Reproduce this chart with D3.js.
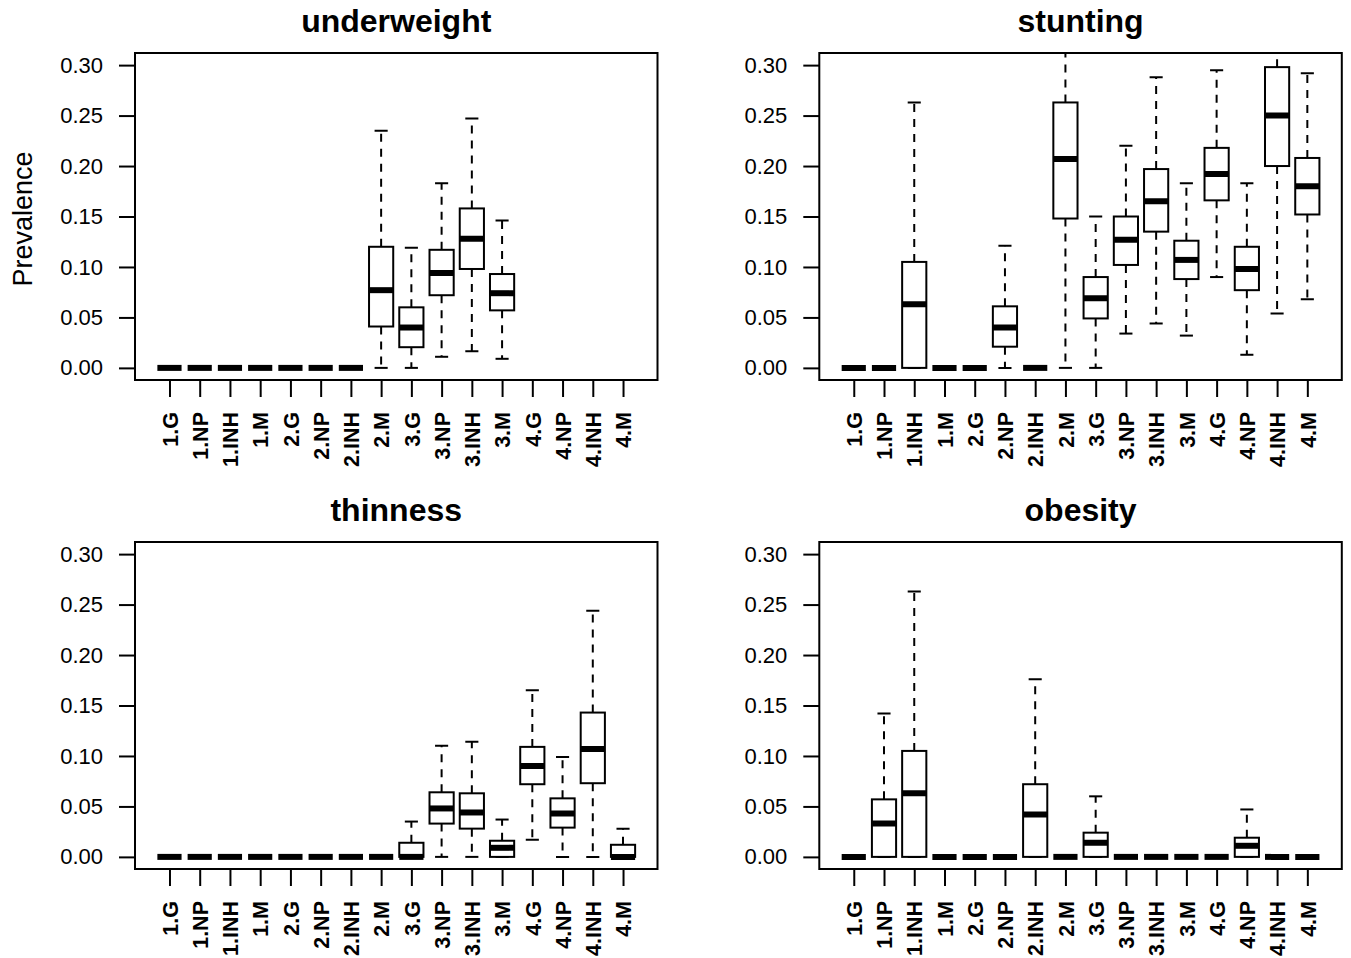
<!DOCTYPE html>
<html>
<head>
<meta charset="utf-8">
<script src="https://cdn.jsdelivr.net/npm/d3@7"></script>
<style>
  body { margin: 0; background: #fff; }
  text { font-family: "Liberation Sans", Arial, Helvetica, sans-serif; fill: #000; }
</style>
</head>
<body>
<script>
// group labels on the x axis
var categories = ["1.G", "1.NP", "1.INH", "1.M", "2.G", "2.NP", "2.INH", "2.M",
                  "3.G", "3.NP", "3.INH", "3.M", "4.G", "4.NP", "4.INH", "4.M"];
var yTicks = [0, 0.05, 0.10, 0.15, 0.20, 0.25, 0.30];

// each box: [lower whisker, Q1, median, Q3, upper whisker], null = no box
var z = [0, 0, 0, 0, 0];
var underweight = [z, z, z, z, z, z, z,
  [0, 0.041, 0.077, 0.120, 0.235],
  [0, 0.0205, 0.040, 0.060, 0.119],
  [0.011, 0.072, 0.094, 0.117, 0.183],
  [0.0165, 0.098, 0.128, 0.158, 0.247],
  [0.009, 0.057, 0.074, 0.093, 0.146],
  null, null, null, null];
var stunting = [z, z,
  [0, 0, 0.063, 0.105, 0.263],
  z, z,
  [0, 0.021, 0.040, 0.061, 0.121],
  z,
  [0, 0.148, 0.207, 0.263, 0.34],
  [0, 0.049, 0.069, 0.090, 0.150],
  [0.034, 0.102, 0.127, 0.150, 0.220],
  [0.044, 0.135, 0.165, 0.197, 0.288],
  [0.032, 0.088, 0.107, 0.126, 0.183],
  [0.090, 0.166, 0.192, 0.218, 0.295],
  [0.013, 0.077, 0.098, 0.120, 0.183],
  [0.054, 0.200, 0.250, 0.298, 0.34],
  [0.068, 0.152, 0.180, 0.208, 0.292]];
var thinness = [z, z, z, z, z, z, z, z,
  [0, 0, 0, 0.014, 0.035],
  [0, 0.033, 0.048, 0.064, 0.110],
  [0, 0.028, 0.044, 0.063, 0.114],
  [0, 0, 0.009, 0.016, 0.037],
  [0.017, 0.072, 0.090, 0.109, 0.165],
  [0, 0.029, 0.043, 0.058, 0.099],
  [0, 0.073, 0.107, 0.143, 0.244],
  [0, 0, 0, 0.012, 0.028]];
var obesity = [z,
  [0, 0, 0.033, 0.057, 0.142],
  [0, 0, 0.063, 0.105, 0.263],
  z, z, z,
  [0, 0, 0.042, 0.072, 0.176],
  z,
  [0, 0, 0.014, 0.024, 0.060],
  z, z, z, z,
  [0, 0, 0.011, 0.019, 0.047],
  z, z];

var panels = [
  { title: "underweight", data: underweight, left: 135, top: 53 },
  { title: "stunting", data: stunting, left: 819.3, top: 53 },
  { title: "thinness", data: thinness, left: 135, top: 542 },
  { title: "obesity", data: obesity, left: 819.3, top: 542 }
];

var plotW = 522.5, plotH = 327;

var svg = d3.select("body")
  .append("svg")
  .attr("width", 1351)
  .attr("height", 958);

panels.forEach(function(p, pi) {
  var g = svg.append("g")
    .attr("transform", `translate(${p.left}, ${p.top})`);

  var x = d3.scalePoint()
    .domain(categories)
    .range([0, plotW])
    .padding(1.14);

  var y = d3.scaleLinear()
    .domain([-0.012, 0.312])
    .range([plotH, 0]);

  var bw = x.step() * 0.8;

  g.append("clipPath")
    .attr("id", "clip" + pi)
    .append("rect")
    .attr("width", plotW)
    .attr("height", plotH);

  var plot = g.append("g").attr("clip-path", `url(#clip${pi})`);

  var boxes = p.data.map(function(d, i) { return { cat: categories[i], v: d }; })
    .filter(function(d) { return d.v !== null; });

  var bx = plot.selectAll(".box")
    .data(boxes)
    .enter()
    .append("g")
    .attr("transform", d => `translate(${x(d.cat)}, 0)`);

  // whiskers
  bx.append("line")
    .attr("y1", d => y(d.v[3])).attr("y2", d => y(d.v[4]))
    .attr("stroke", "#000").attr("stroke-width", 2).attr("stroke-dasharray", "8,7");
  bx.append("line")
    .attr("y1", d => y(d.v[1])).attr("y2", d => y(d.v[0]))
    .attr("stroke", "#000").attr("stroke-width", 2).attr("stroke-dasharray", "8,7");

  // staples
  [0, 4].forEach(function(k) {
    bx.append("line")
      .attr("x1", -bw / 4 - 0.5).attr("x2", bw / 4 + 0.5)
      .attr("y1", d => y(d.v[k])).attr("y2", d => y(d.v[k]))
      .attr("stroke", "#000").attr("stroke-width", 2);
  });

  bx.append("rect")
    .attr("x", -bw / 2)
    .attr("width", bw)
    .attr("y", d => y(d.v[3]))
    .attr("height", d => y(d.v[1]) - y(d.v[3]))
    .attr("fill", "#fff")
    .attr("stroke", "#000")
    .attr("stroke-width", 2);

  bx.append("line")
    .attr("x1", -bw / 2).attr("x2", bw / 2)
    .attr("y1", d => y(d.v[2])).attr("y2", d => y(d.v[2]))
    .attr("stroke", "#000").attr("stroke-width", 6);

  // frame
  g.append("rect")
    .attr("width", plotW)
    .attr("height", plotH)
    .attr("fill", "none")
    .attr("stroke", "#000")
    .attr("stroke-width", 2);

  var leftAxis = d3.axisLeft(y)
    .tickValues(yTicks)
    .tickFormat(d3.format(".2f"))
    .tickSize(16)
    .tickPadding(16);

  var ya = g.append("g").call(leftAxis);
  ya.select(".domain").remove();
  ya.selectAll(".tick line").attr("stroke-width", 2);
  ya.selectAll("text")
    .style("font-size", "22px")
    .style("font-family", "'Liberation Sans', Arial, sans-serif");

  var bottomAxis = d3.axisBottom(x).tickSize(17);
  var xa = g.append("g")
    .attr("transform", `translate(0, ${plotH})`)
    .call(bottomAxis);
  xa.select(".domain").remove();
  xa.selectAll(".tick line").attr("stroke-width", 2);
  xa.selectAll("text")
    .attr("transform", "rotate(-90)")
    .attr("x", -32)
    .attr("y", 0)
    .attr("dy", "0.36em")
    .style("text-anchor", "end")
    .style("font-size", "21.5px")
    .style("font-weight", "bold")
    .style("font-family", "'Liberation Sans', Arial, sans-serif");

  g.append("text")
    .attr("x", plotW / 2)
    .attr("y", -21)
    .attr("text-anchor", "middle")
    .style("font-size", "32px")
    .style("font-weight", "bold")
    .text(p.title);
});

// y axis label, only on the first panel
svg.append("text")
  .attr("transform", "translate(32, 219) rotate(-90)")
  .attr("text-anchor", "middle")
  .style("font-size", "27px")
  .text("Prevalence");
</script>
</body>
</html>
